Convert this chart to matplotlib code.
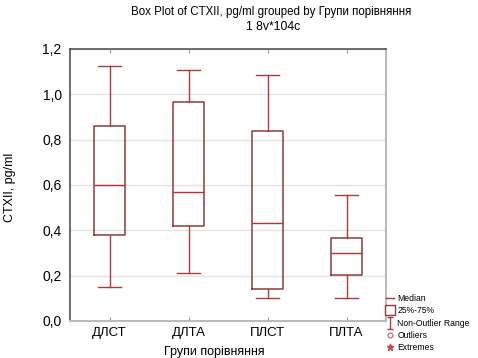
import matplotlib
matplotlib.use("Agg")
import matplotlib.pyplot as plt
from matplotlib.lines import Line2D
from matplotlib.path import Path
from matplotlib import font_manager

categories = ["ДЛСТ", "ДЛТА", "ПЛСТ", "ПЛТА"]
whisker_low = [0.148, 0.210, 0.100, 0.100]
q1 = [0.378, 0.419, 0.139, 0.205]
median = [0.601, 0.570, 0.431, 0.298]
q3 = [0.860, 0.964, 0.837, 0.368]
whisker_high = [1.124, 1.106, 1.086, 0.557]
yticks = [0.0, 0.2, 0.4, 0.6, 0.8, 1.0, 1.2]
ytick_labels = ["0,0", "0,2", "0,4", "0,6", "0,8", "1,0", "1,2"]

names = {f.name for f in font_manager.fontManager.ttflist}
fam = ["Liberation Sans Narrow", "DejaVu Sans"] if "Liberation Sans Narrow" in names else ["Liberation Sans", "DejaVu Sans"]
plt.rcParams['font.family'] = fam

W, H = 478, 358
fig = plt.figure(figsize=(W/100, H/100), dpi=100)
ax = fig.add_axes([70/W, 1-321/H, 316/W, 272/H])

box_col = "#8b3b3b"
wh_col = "#b03a3a"
stats = []
for i, c in enumerate(categories):
    stats.append(dict(label=c, whislo=whisker_low[i], q1=q1[i], med=median[i],
                      q3=q3[i], whishi=whisker_high[i], fliers=[]))
ax.bxp(stats, positions=range(1, len(categories)+1), widths=0.4, showfliers=False,
       boxprops=dict(color=box_col, linewidth=1.1),
       medianprops=dict(color="#b83030", linewidth=1.0),
       whiskerprops=dict(color=wh_col, linewidth=1.0),
       capprops=dict(color=wh_col, linewidth=1.0), capwidths=0.3)

ax.set_xlim(0.5, 4.5)
ax.set_ylim(0, 1.2)
ax.set_yticks(yticks)
ax.set_yticklabels(ytick_labels, fontsize=10)
ax.set_xticks(range(1, 5))
ax.set_xticklabels(categories, fontsize=9.5)
ax.yaxis.grid(True, color="#e4e4e4", linewidth=1.0)
ax.set_axisbelow(True)
ax.tick_params(axis='x', direction='in', length=3, color="#999999", top=True, pad=4)
ax.tick_params(axis='y', direction='in', length=0, pad=6)
for s in ['top', 'left']:
    ax.spines[s].set_color("#555555")
    ax.spines[s].set_linewidth(1.2)
for s in ['right', 'bottom']:
    ax.spines[s].set_color("#bbbbbb")
    ax.spines[s].set_linewidth(1.5)

fig.text(271/W, 1-12/H, "Box Plot of CTXII, pg/ml grouped by Групи порівняння", ha='center', va='center', fontsize=8.3)
fig.text(273/W, 1-27/H, "1 8v*104c", ha='center', va='center', fontsize=8.8)
fig.text(214/W, 1-352/H, "Групи порівняння", ha='center', va='center', fontsize=9)
fig.text(10/W, 1-187/H, "CTXII, pg/ml", ha='center', va='center', rotation=90, fontsize=9)

ibar = Path([(-0.5, 1), (0.5, 1), (0, 1), (0, -1), (-0.5, -1), (0.5, -1)],
            [Path.MOVETO, Path.LINETO, Path.MOVETO, Path.LINETO, Path.MOVETO, Path.LINETO])
handles = [
    Line2D([], [], color="#b83030", linewidth=1.0),
    Line2D([], [], color=box_col, marker='s', markerfacecolor='white', markersize=7, linestyle='none'),
    Line2D([], [], color=wh_col, marker=ibar, markersize=8, markeredgewidth=1.0, linestyle='none'),
    Line2D([], [], color="#c08080", marker='o', markerfacecolor='white', markersize=3.5, linestyle='none'),
    Line2D([], [], color="#d04040", marker='*', markersize=4.5, linestyle='none'),
]
labels = ["Median", "25%-75%", "Non-Outlier Range", "Outliers", "Extremes"]
fig.legend(handles, labels, loc='upper left', bbox_to_anchor=(386/W, 1-294/H),
           frameon=False, fontsize=6.2, handlelength=0.9, handletextpad=0.4,
           labelspacing=0.38, borderaxespad=0, borderpad=0)

fig.savefig("out.png", dpi=100)
